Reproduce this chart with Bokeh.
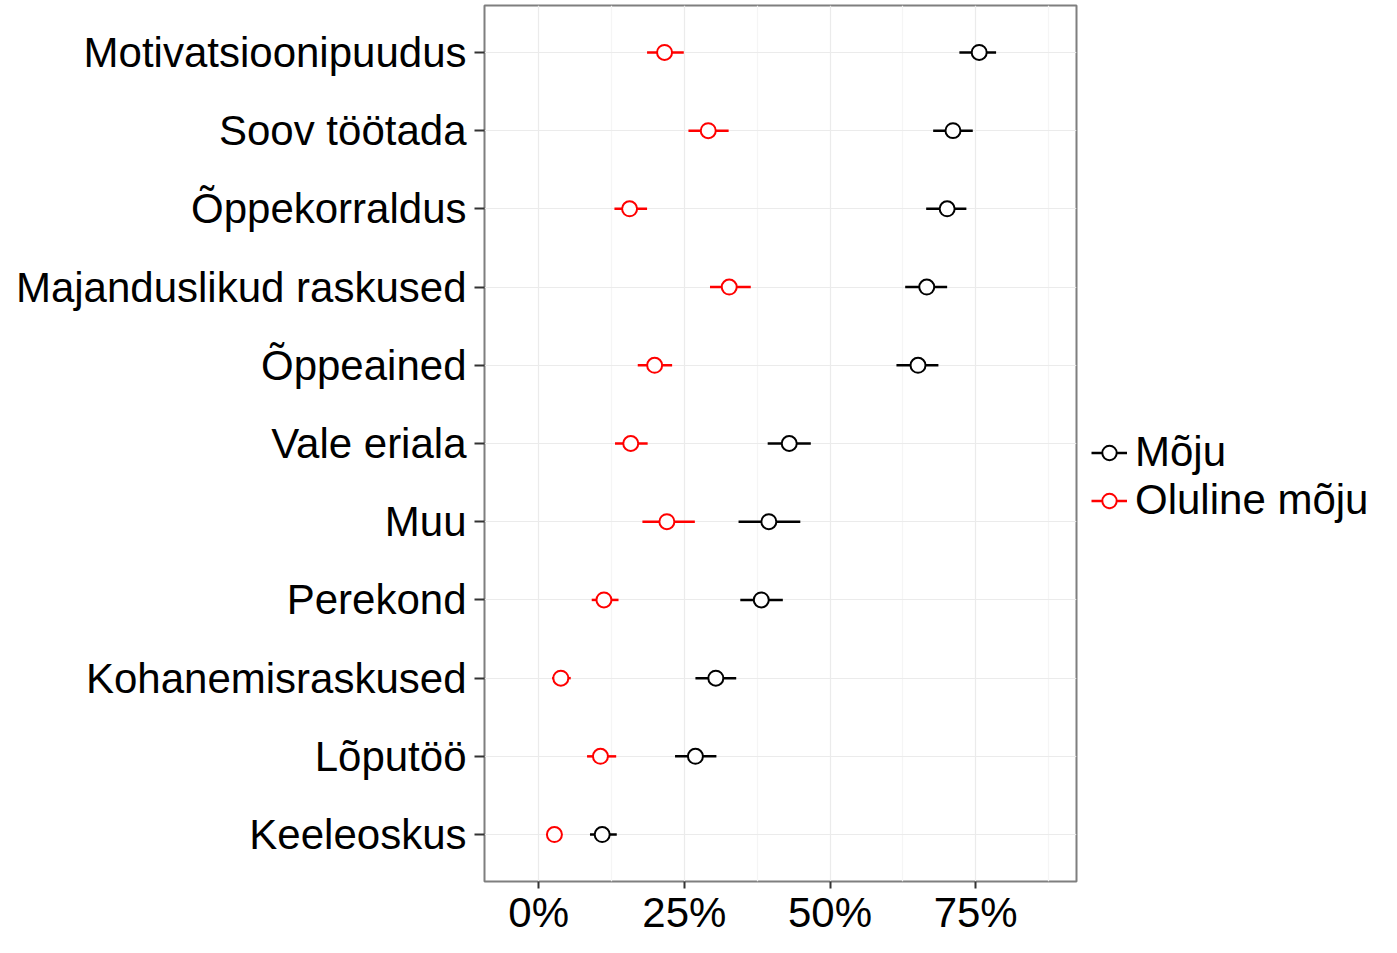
from bokeh.plotting import figure
from bokeh.models import (ColumnDataSource, Range1d, FixedTicker, NumeralTickFormatter,
                          Legend, LegendItem)
from bokeh.embed import file_html
from bokeh.resources import INLINE

# ---- data (top to bottom as displayed) ----
categories = ["Motivatsioonipuudus", "Soov töötada", "Õppekorraldus", "Majanduslikud raskused",
              "Õppeained", "Vale eriala", "Muu", "Perekond", "Kohanemisraskused",
              "Lõputöö", "Keeleoskus"]
moju = [0.756, 0.711, 0.701, 0.666, 0.651, 0.430, 0.395, 0.382, 0.304, 0.269, 0.109]
moju_lo = [0.722, 0.677, 0.665, 0.629, 0.614, 0.393, 0.343, 0.346, 0.269, 0.234, 0.088]
moju_hi = [0.785, 0.745, 0.734, 0.701, 0.686, 0.467, 0.449, 0.419, 0.339, 0.305, 0.134]
oluline = [0.216, 0.291, 0.156, 0.327, 0.199, 0.158, 0.220, 0.112, 0.038, 0.106, 0.027]
oluline_lo = [0.186, 0.257, 0.130, 0.294, 0.170, 0.131, 0.178, 0.091, 0.023, 0.083, 0.017]
oluline_hi = [0.249, 0.326, 0.186, 0.364, 0.229, 0.187, 0.268, 0.137, 0.055, 0.133, 0.039]
series_labels = ["Mõju", "Oluline mõju"]
x_ticks = [0, 0.25, 0.5, 0.75]

n = len(categories)
ypos = [n - i for i in range(n)]

FONT = "Liberation Sans"

p = figure(frame_width=592, frame_height=876, output_backend="svg", toolbar_location=None,
           x_range=Range1d(-0.093, 0.923), y_range=Range1d(0.4, n + 0.6),
           min_border_left=484, min_border_right=0, min_border_top=5, min_border_bottom=0)
p.background_fill_color = "white"
p.border_fill_color = "white"
p.outline_line_color = "#7F7F7F"
p.outline_line_width = 2

# axes
p.xaxis.ticker = FixedTicker(ticks=x_ticks, minor_ticks=[-0.125, 0.125, 0.375, 0.625, 0.875])
p.xaxis.formatter = NumeralTickFormatter(format="0%")
p.yaxis.ticker = FixedTicker(ticks=ypos)
p.yaxis.major_label_overrides = {y: c for y, c in zip(ypos, categories)}
for ax in (p.xaxis[0], p.yaxis[0]):
    ax.axis_line_color = None
    ax.major_tick_in = 0
    ax.major_tick_line_color = "#333333"
    ax.major_tick_line_width = 2
    ax.minor_tick_line_color = None
    ax.major_label_text_font = FONT
    ax.major_label_text_font_size = "42px"
    ax.major_label_text_color = "black"
p.xaxis.major_tick_out = 7
p.xaxis.major_label_standoff = 0
p.yaxis.major_tick_out = 10
p.yaxis.major_label_standoff = 8

# grids
p.xgrid.grid_line_color = "#EBEBEB"
p.xgrid.grid_line_width = 1.2
p.xgrid.minor_grid_line_color = "#F5F5F5"
p.xgrid.minor_grid_line_width = 1.2
p.ygrid.ticker = FixedTicker(ticks=ypos)
p.ygrid.grid_line_color = "#EBEBEB"
p.ygrid.grid_line_width = 1.2

src_m = ColumnDataSource(dict(y=ypos, x=moju, lo=moju_lo, hi=moju_hi))
src_o = ColumnDataSource(dict(y=ypos, x=oluline, lo=oluline_lo, hi=oluline_hi))

seg_m = p.segment(x0="lo", x1="hi", y0="y", y1="y", source=src_m, line_color="black", line_width=2.5)
seg_o = p.segment(x0="lo", x1="hi", y0="y", y1="y", source=src_o, line_color="#FF0000", line_width=2.5)
pt_m = p.scatter(x="x", y="y", source=src_m, size=15, marker="circle", fill_color="white",
                 line_color="black", line_width=2)
pt_o = p.scatter(x="x", y="y", source=src_o, size=15, marker="circle", fill_color="white",
                 line_color="#FF0000", line_width=2)

legend = Legend(items=[LegendItem(label=series_labels[0], renderers=[seg_m, pt_m]),
                       LegendItem(label=series_labels[1], renderers=[seg_o, pt_o])],
                location="left", padding=0, spacing=0, margin=15,
                title=" ", title_text_font_size="42px", title_standoff=18,
                border_line_color=None, background_fill_alpha=0,
                glyph_width=36, glyph_height=45, label_standoff=8,
                label_text_font=FONT, label_text_font_size="42px", label_text_color="black")
p.add_layout(legend, "right")

open("out.html", "w").write(file_html(p, INLINE))
